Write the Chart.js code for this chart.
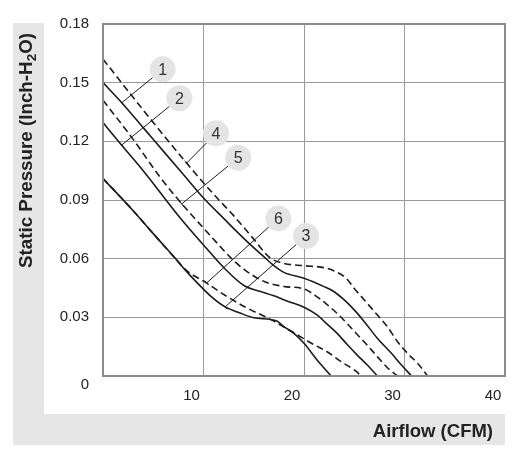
<!DOCTYPE html>
<html>
<head>
<meta charset="utf-8">
<script src="https://cdn.jsdelivr.net/npm/chart.js@4.4.1/dist/chart.umd.min.js"></script>
<style>
  html, body { margin: 0; padding: 0; background: #fff; }
</style>
</head>
<body>
<canvas id="fanChart" width="513" height="460"></canvas>
<script>
// airflow (CFM) / static pressure (inch H2O)
const flow1 = [0, 2, 4, 6, 8, 10, 12, 14, 16, 17, 18, 20, 22, 23, 24, 25, 26, 27.3, 28.7, 29.7, 30.7];
const pres1 = [0.150, 0.139, 0.127, 0.115, 0.103, 0.091, 0.0806, 0.0704, 0.061, 0.0565, 0.053, 0.050, 0.0457, 0.0431, 0.0389, 0.0338, 0.0278, 0.0193, 0.0116, 0.0056, 0];

const flow2 = [0, 1.86, 4, 7.5, 10, 12.1, 14.1, 15.5, 17, 18.5, 20, 21.3, 22.3, 23.3, 24.3, 25.3, 26.3, 27.3];
const pres2 = [0.1296, 0.118, 0.105, 0.082, 0.067, 0.055, 0.046, 0.0435, 0.041, 0.038, 0.0352, 0.0312, 0.0265, 0.0218, 0.0161, 0.0107, 0.0056, 0];

const flow3 = [0, 3, 5, 7.3, 8.3, 9.5, 10.6, 12.1, 13.5, 15, 17.3, 18, 19, 20, 21.3, 22.7];
const pres3 = [0.101, 0.0845, 0.0728, 0.0595, 0.0535, 0.047, 0.0414, 0.0355, 0.0325, 0.0298, 0.0281, 0.0252, 0.0218, 0.0167, 0.0082, 0];

const flow4 = [0, 4, 8.3, 11, 13, 15, 16.6, 18, 20, 22, 23, 24.2, 25, 26, 27.3, 28.3, 29.3, 30.3, 31.3, 32.3];
const pres4 = [0.162, 0.136, 0.109, 0.093, 0.082, 0.070, 0.0605, 0.0576, 0.0564, 0.0554, 0.0537, 0.050, 0.0448, 0.0389, 0.0312, 0.0252, 0.0176, 0.0116, 0.0065, 0];

const flow5 = [0, 3, 5.7, 7.85, 10.2, 11.7, 12.7, 14.1, 16.1, 18, 20, 21.3, 22.3, 23.3, 24.3, 25.3, 26.3, 27.3, 28.3, 29.3];
const pres5 = [0.141, 0.121, 0.1015, 0.088, 0.0745, 0.066, 0.0605, 0.0543, 0.0482, 0.0458, 0.0445, 0.0405, 0.0365, 0.032, 0.0268, 0.0212, 0.0157, 0.0099, 0.0042, 0];

const flow6 = [0, 3, 5, 7.3, 8.3, 10.3, 12.1, 14.1, 16.8, 18, 19.2, 20, 21, 22.3, 23.7, 25, 25.7];
const pres6 = [0.101, 0.0845, 0.0728, 0.0595, 0.054, 0.0476, 0.0414, 0.0354, 0.0286, 0.025, 0.0215, 0.019, 0.016, 0.0124, 0.0073, 0.0031, 0];

// numbered callouts: bubble centre and the point the leader touches
const calloutText = ['1', '2', '3', '4', '5', '6'];
const bubbleX = [5.94, 7.6, 20.2, 11.24, 13.46, 17.45];
const bubbleY = [0.1568, 0.142, 0.0716, 0.1241, 0.1116, 0.0806];
const leaderX = [1.86, 1.86, 12.14, 8.33, 7.83, 10.32];
const leaderY = [0.1397, 0.1181, 0.0353, 0.1089, 0.088, 0.0476];

const xTicks = [0, 10, 20, 30, 40];
const yTicks = [0, 0.03, 0.06, 0.09, 0.12, 0.15, 0.18];

const FONT = '"Liberation Sans", Arial, sans-serif';

function pts(xs, ys) {
    return xs.map((x, i) => ({ x: x, y: ys[i] }));
}

function curve(xs, ys, dashed) {
    return {
        data: pts(xs, ys),
        borderColor: '#1c1c1c',
        borderWidth: 1.6,
        borderDash: dashed ? [7, 4] : [],
        pointRadius: 0,
        fill: false,
        cubicInterpolationMode: 'monotone'
    };
}

const decor = {
    id: 'decor',
    beforeDraw(chart) {
        const ctx = chart.ctx;
        ctx.save();
        ctx.fillStyle = '#ffffff';
        ctx.fillRect(0, 0, chart.width, chart.height);
        ctx.fillStyle = '#e6e6e7';
        ctx.fillRect(13, 23, 31, 422);
        ctx.fillRect(13, 414, 492, 31);
        ctx.restore();
    },
    afterDatasetsDraw(chart) {
        const ctx = chart.ctx;
        const a = chart.chartArea;
        const xs = chart.scales.x, ys = chart.scales.y;
        ctx.save();

        // frame
        ctx.strokeStyle = '#8c8c8c';
        ctx.lineWidth = 2;
        ctx.strokeRect(a.left, a.top, a.right - a.left, a.bottom - a.top);

        // callouts
        calloutText.forEach((t, i) => {
            const cx = xs.getPixelForValue(bubbleX[i]);
            const cy = ys.getPixelForValue(bubbleY[i]);
            const ex = xs.getPixelForValue(leaderX[i]);
            const ey = ys.getPixelForValue(leaderY[i]);
            const dx = ex - cx, dy = ey - cy;
            const len = Math.sqrt(dx * dx + dy * dy);
            const ux = dx / len, uy = dy / len;
            const r = 13;

            ctx.strokeStyle = '#1c1c1c';
            ctx.lineWidth = 1;
            ctx.beginPath();
            ctx.moveTo(cx + ux * r, cy + uy * r);
            ctx.lineTo(ex, ey);
            // small tick where the leader meets the curve
            ctx.moveTo(ex - uy * 3, ey + ux * 3);
            ctx.lineTo(ex + uy * 3, ey - ux * 3);
            ctx.stroke();

            ctx.fillStyle = '#e4e4e5';
            ctx.beginPath();
            ctx.arc(cx, cy, r, 0, Math.PI * 2);
            ctx.fill();

            ctx.fillStyle = '#333333';
            ctx.font = '16px ' + FONT;
            ctx.textAlign = 'center';
            ctx.textBaseline = 'middle';
            ctx.fillText(t, cx, cy + 1);
        });
        ctx.restore();
    },
    afterDraw(chart) {
        const ctx = chart.ctx;
        ctx.save();

        // y zero label sits a little below the axis in the original
        ctx.fillStyle = '#222222';
        ctx.font = '15px ' + FONT;
        ctx.textAlign = 'right';
        ctx.textBaseline = 'middle';
        ctx.fillText('0', 89, 385);

        // x title
        ctx.font = 'bold 18.5px ' + FONT;
        ctx.textAlign = 'right';
        ctx.fillText('Airflow (CFM)', 493, 432);

        // y title with subscript 2
        ctx.translate(27, 268);
        ctx.rotate(-Math.PI / 2);
        ctx.textAlign = 'left';
        ctx.textBaseline = 'middle';
        const p1 = 'Static Pressure (Inch-H';
        ctx.font = 'bold 18.8px ' + FONT;
        ctx.fillText(p1, 0, 0);
        let w = ctx.measureText(p1).width;
        ctx.font = 'bold 13.5px ' + FONT;
        ctx.fillText('2', w, 5);
        w += ctx.measureText('2').width;
        ctx.font = 'bold 18.8px ' + FONT;
        ctx.fillText('O)', w, 0);
        ctx.restore();
    }
};

let ct = document.getElementById('fanChart').getContext('2d');

let fanChart = new Chart(ct, {
    type: 'line',
    data: {
        datasets: [
            curve(flow1, pres1, false),
            curve(flow2, pres2, false),
            curve(flow3, pres3, false),
            curve(flow4, pres4, true),
            curve(flow5, pres5, true),
            curve(flow6, pres6, true)
        ]
    },
    options: {
        responsive: false,
        animation: false,
        layout: { padding: { left: 0, right: 8, top: 24, bottom: 0 } },
        plugins: {
            legend: { display: false },
            tooltip: { enabled: false }
        },
        scales: {
            x: {
                type: 'linear',
                min: xTicks[0],
                max: xTicks[xTicks.length - 1],
                afterBuildTicks: s => { s.ticks = xTicks.map(v => ({ value: v })); },
                afterFit: s => { s.height = 84; s.paddingLeft = 0; s.paddingRight = 0; },
                grid: { color: '#9a9a9a', lineWidth: 1, drawTicks: false },
                border: { display: false },
                ticks: {
                    padding: 11,
                    labelOffset: -12,
                    color: '#222222',
                    font: { size: 15, family: FONT },
                    callback: v => v === 0 ? '' : String(v)
                }
            },
            y: {
                type: 'linear',
                min: yTicks[0],
                max: yTicks[yTicks.length - 1],
                afterBuildTicks: s => { s.ticks = yTicks.map(v => ({ value: v })); },
                afterFit: s => { s.width = 103; s.paddingTop = 0; s.paddingBottom = 0; },
                grid: { color: '#9a9a9a', lineWidth: 1, drawTicks: false },
                border: { display: false },
                ticks: {
                    padding: 14,
                    color: '#222222',
                    font: { size: 15, family: FONT },
                    callback: v => v === 0 ? '' : v.toFixed(2)
                }
            }
        }
    },
    plugins: [decor]
});
</script>
</body>
</html>
